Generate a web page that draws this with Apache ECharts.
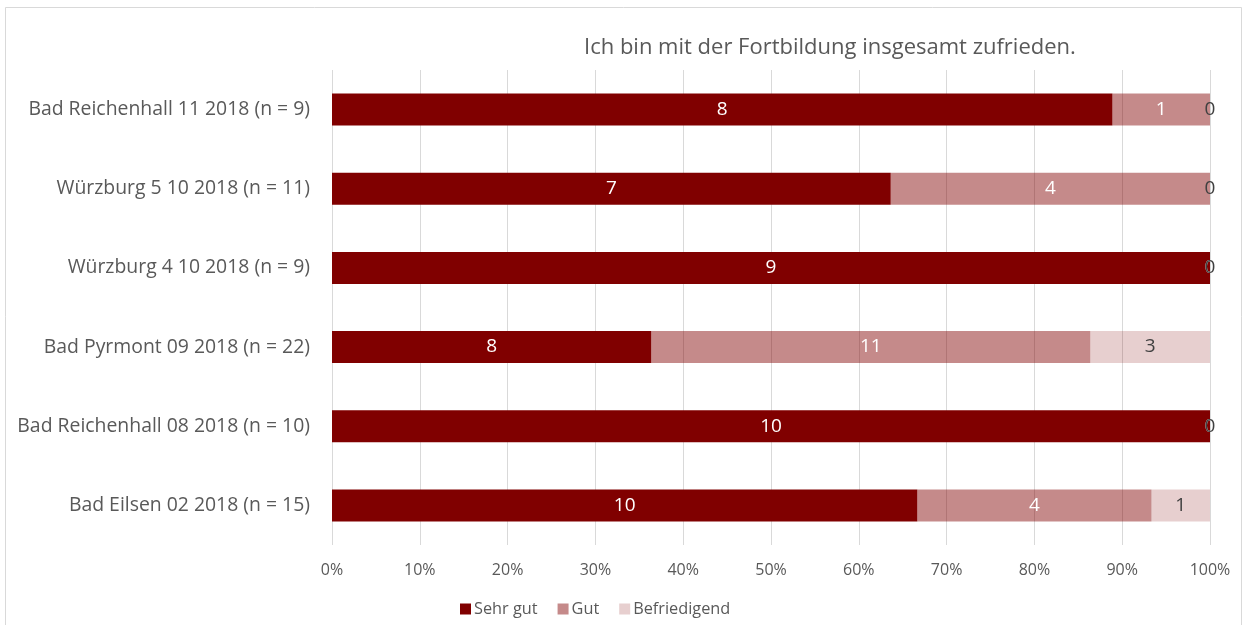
<!DOCTYPE html>
<html>
<head>
<meta charset="utf-8">
<script src="https://cdn.jsdelivr.net/npm/echarts@6/dist/echarts.min.js"></script>
<style>
html,body{margin:0;padding:0;background:#fff;}
#c{width:1247px;height:625px;}
</style>
</head>
<body>
<div id="c"></div>
<script>
// Categories listed bottom to top
const categories = [
  'Bad Eilsen 02 2018 (n = 15)',
  'Bad Reichenhall 08 2018 (n = 10)',
  'Bad Pyrmont 09 2018 (n = 22)',
  'Würzburg 4 10 2018 (n = 9)',
  'Würzburg 5 10 2018 (n = 11)',
  'Bad Reichenhall 11 2018 (n = 9)'
];
const sehrGut = [10, 10, 8, 9, 7, 8];
const gut = [4, 0, 11, 0, 4, 1];
const befriedigend = [1, 0, 3, 0, 0, 0];
const seriesNames = ['Sehr gut', 'Gut', 'Befriedigend'];
const xTicks = [0, 10, 20, 30, 40, 50, 60, 70, 80, 90, 100];
const titleText = 'Ich bin mit der Fortbildung insgesamt zufrieden.';

const FONT = 'Open Sans';
const totals = categories.map((_, i) => sehrGut[i] + gut[i] + befriedigend[i]);
const toData = arr => arr.map((v, i) => ({ value: v / totals[i] * 100, count: v }));

const chart = echarts.init(document.getElementById('c'), null, { renderer: 'canvas' });

function mkSeries(name, arr, color, labelColor) {
  return {
    name: name,
    type: 'bar',
    stack: 'total',
    barWidth: 32,
    data: toData(arr),
    itemStyle: { color: color },
    label: {
      show: true,
      position: 'inside',
      color: labelColor,
      fontFamily: FONT,
      fontSize: 19,
      formatter: p => String(p.data.count)
    },
    emphasis: { disabled: true }
  };
}

chart.setOption({
  animation: false,
  backgroundColor: '#fff',
  graphic: [{
    type: 'rect',
    shape: { x: 5.5, y: 7.5, width: 1236, height: 640 },
    style: { fill: 'none', stroke: '#d9d9d9', lineWidth: 1 },
    silent: true
  }],
  title: {
    text: titleText,
    left: 579,
    top: 32,
    textStyle: { fontFamily: FONT, fontSize: 22, fontWeight: 'normal', color: '#595959' }
  },
  legend: {
    data: seriesNames,
    left: 455,
    top: 596,
    itemWidth: 11,
    itemHeight: 11,
    itemGap: 20,
    icon: 'rect',
    textStyle: { fontFamily: FONT, fontSize: 16.3, color: '#595959', padding: [0, 0, 0, -2] }
  },
  grid: { left: 332, right: 37, top: 70, bottom: 80, containLabel: false },
  xAxis: {
    type: 'value',
    min: 0,
    max: 100,
    interval: 10,
    axisLine: { show: false },
    axisTick: { show: false },
    splitLine: { show: true, lineStyle: { color: '#d9d9d9', width: 1 } },
    axisLabel: {
      margin: 17,
      fontFamily: FONT,
      fontSize: 16,
      color: '#595959',
      formatter: v => (xTicks.indexOf(v) >= 0 ? v + '%' : '')
    }
  },
  yAxis: {
    type: 'category',
    data: categories,
    axisLine: { show: false },
    axisTick: { show: false },
    axisLabel: { margin: 22, fontFamily: FONT, fontSize: 19.4, color: '#595959' }
  },
  series: [
    mkSeries(seriesNames[0], sehrGut, '#800000', '#ffffff'),
    mkSeries(seriesNames[1], gut, 'rgba(128,0,0,0.46)', '#ffffff'),
    mkSeries(seriesNames[2], befriedigend, 'rgba(128,0,0,0.19)', '#404040')
  ]
});
</script>
</body>
</html>
